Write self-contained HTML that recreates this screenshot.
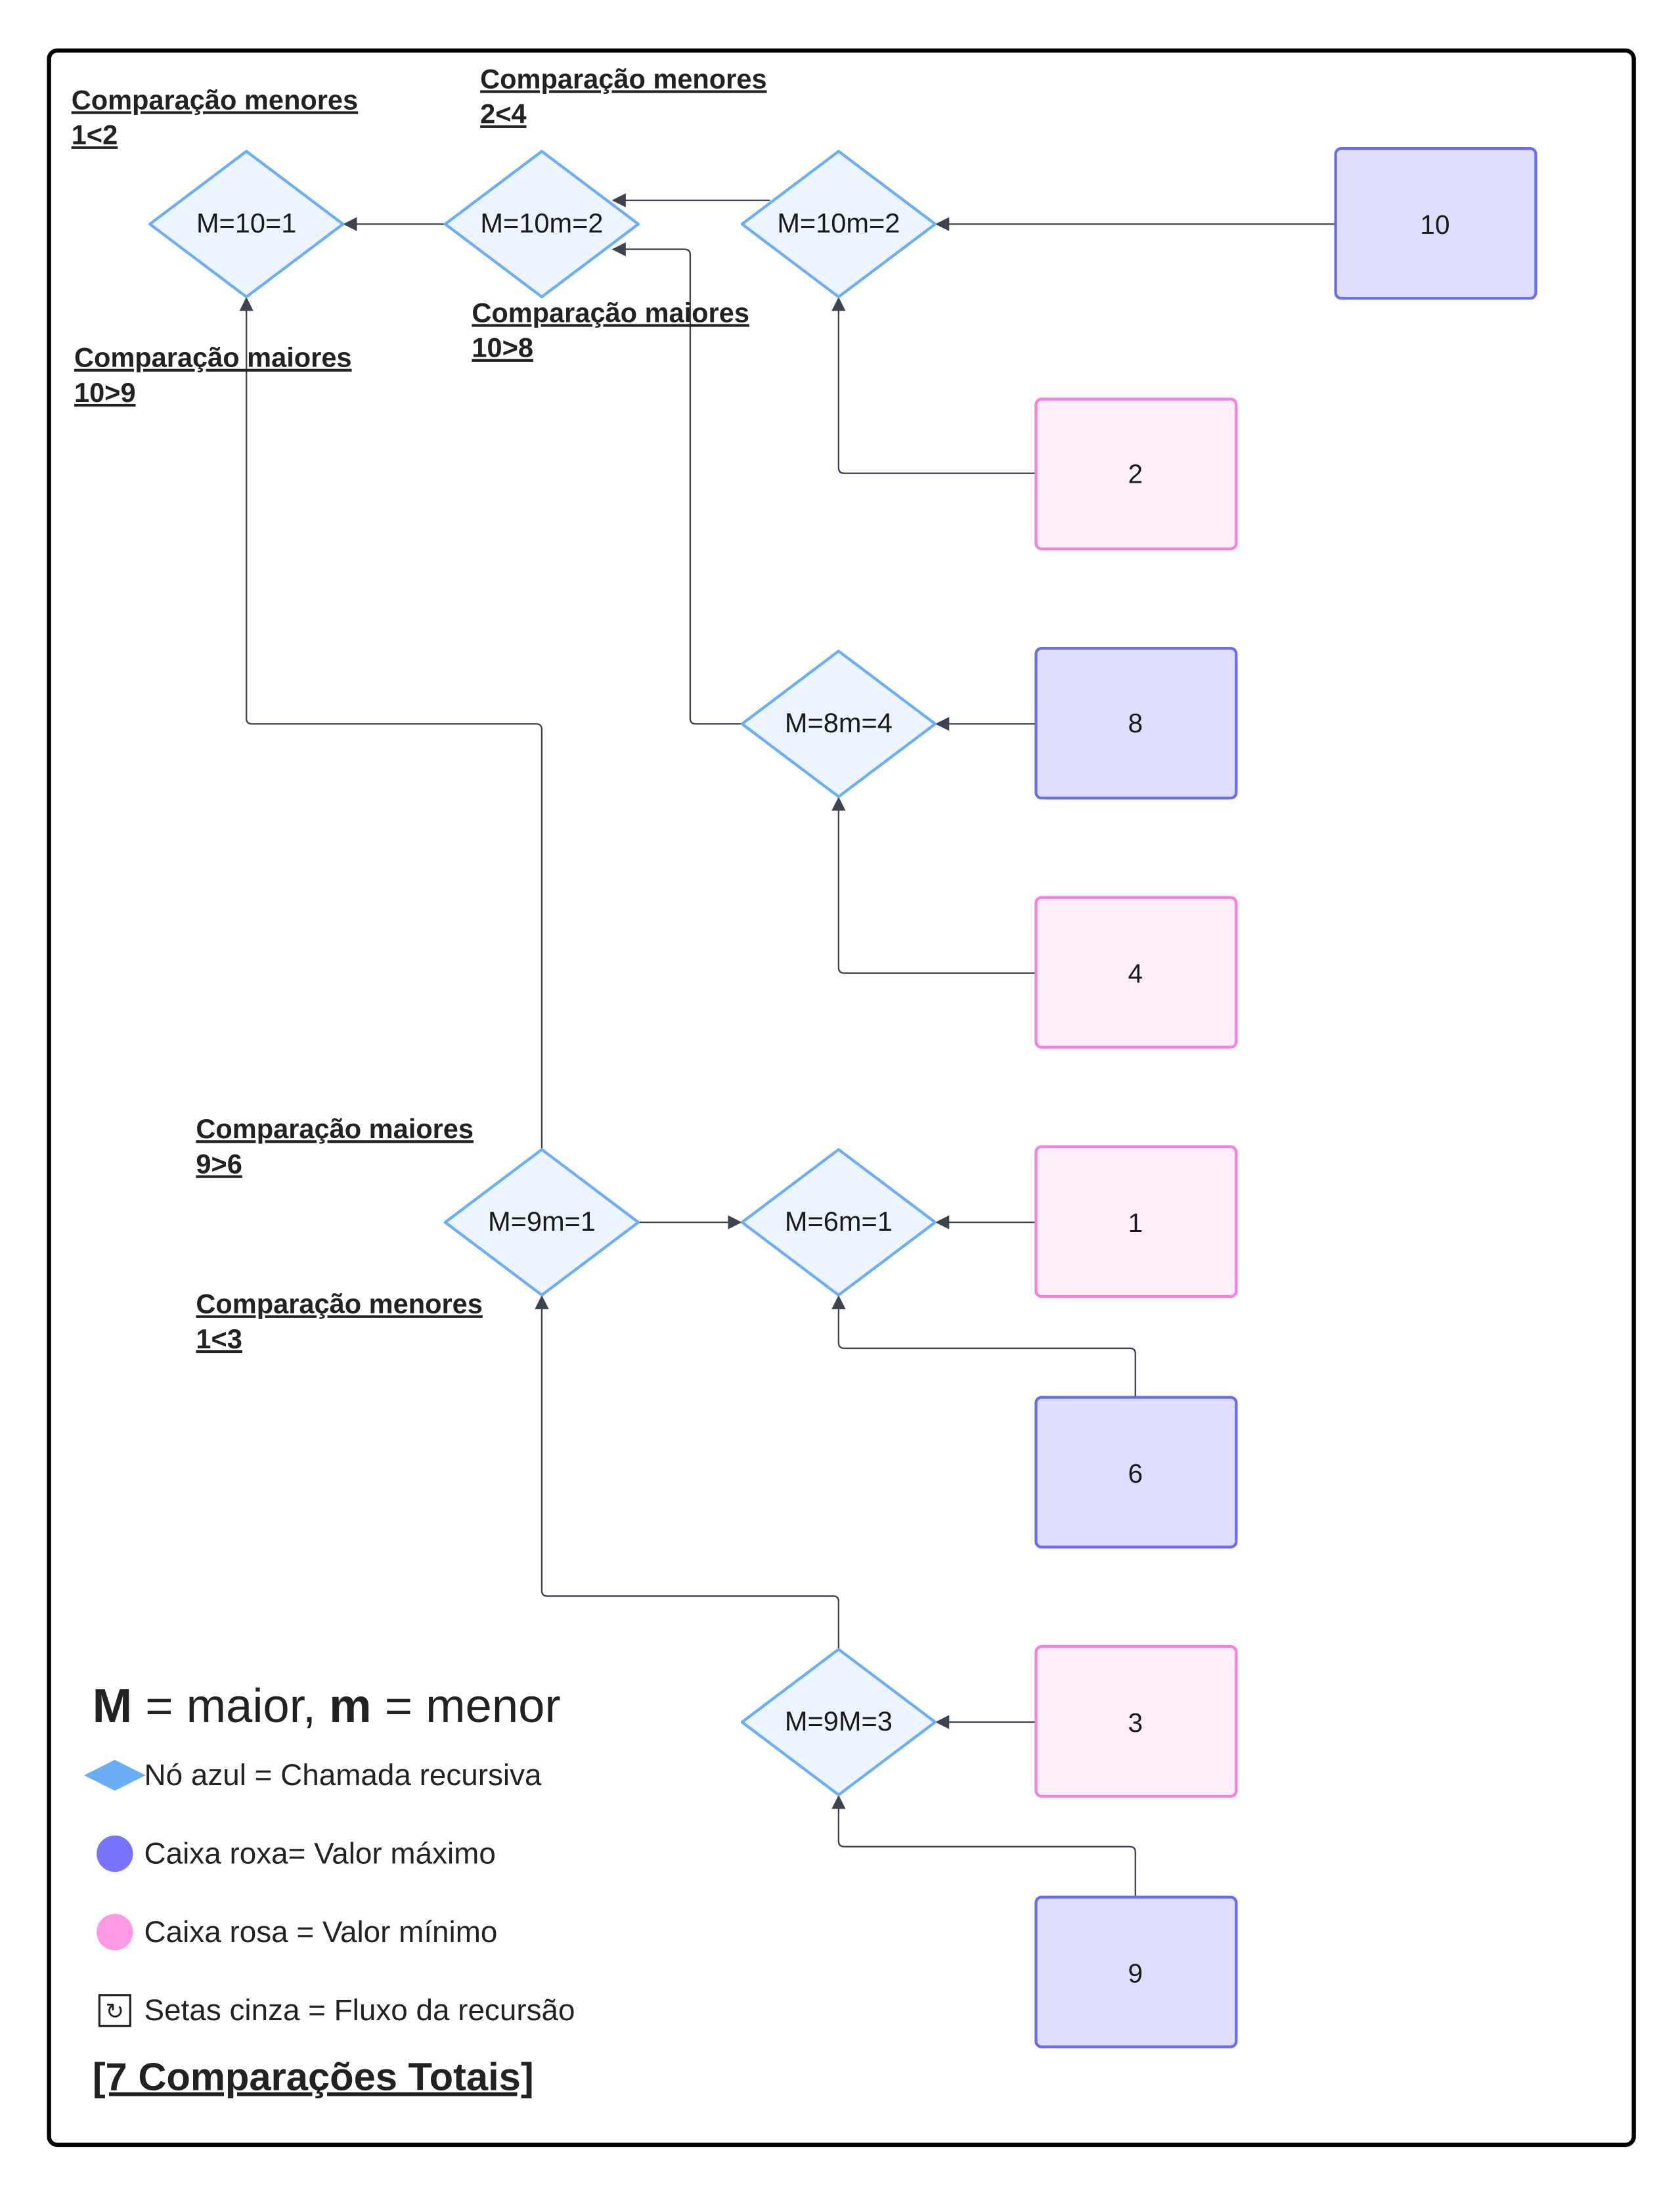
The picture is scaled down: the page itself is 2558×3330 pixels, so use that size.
<!DOCTYPE html>
<html><head><meta charset="utf-8"><style>html,body{margin:0;padding:0;background:#fff}svg{display:block}</style></head>
<body>
<svg width="2558" height="3330" viewBox="0 0 1200 1562" xmlns="http://www.w3.org/2000/svg" font-family="Liberation Sans, sans-serif">
<defs>
<marker id="a" markerWidth="10" markerHeight="10" refX="9" refY="5" orient="auto" markerUnits="userSpaceOnUse"><path d="M0,0 L10,5 L0,10 Z" fill="#3d4450"/></marker>
</defs>
<rect x="35" y="36" width="1132" height="1496" rx="6" fill="#fff" stroke="#000" stroke-width="3"/>
<g fill="none" stroke="#3d4450" stroke-width="1.1" marker-end="url(#a)">
<path d="M318,160 H246"/>
<path d="M550,143 H438"/>
<path d="M954,160 H669"/>
<path d="M740,338 H603 Q599,338 599,334 V213"/>
<path d="M530,517 H497 Q493,517 493,513 V182 Q493,178 489,178 H438"/>
<path d="M740,517 H669"/>
<path d="M740,695 H603 Q599,695 599,691 V570"/>
<path d="M387,821 V521 Q387,517 383,517 H180 Q176,517 176,513 V213"/>
<path d="M456,873 H529"/>
<path d="M740,873 H669"/>
<path d="M811,998 V967 Q811,963 807,963 H603 Q599,963 599,959 V926"/>
<path d="M599,1178 V1144 Q599,1140 595,1140 H391 Q387,1140 387,1136 V926"/>
<path d="M740,1230 H669"/>
<path d="M811,1355 V1323 Q811,1319 807,1319 H603 Q599,1319 599,1315 V1283"/>
</g>
<g fill="#ebf4ff" stroke="#6aaef7" stroke-width="2" stroke-linejoin="round">
<path d="M176,108 L245,160 L176,212 L107,160 Z"/>
<path d="M387,108 L456,160 L387,212 L318,160 Z"/>
<path d="M599,108 L668,160 L599,212 L530,160 Z"/>
<path d="M599,465 L668,517 L599,569 L530,517 Z"/>
<path d="M387,821 L456,873 L387,925 L318,873 Z"/>
<path d="M599,821 L668,873 L599,925 L530,873 Z"/>
<path d="M599,1178 L668,1230 L599,1282 L530,1230 Z"/>
</g>
<g font-size="19.5" fill="#1a1a1a" text-anchor="middle">
<text x="176" y="166">M=10=1</text>
<text x="387" y="166">M=10m=2</text>
<text x="599" y="166">M=10m=2</text>
<text x="599" y="523">M=8m=4</text>
<text x="387" y="879">M=9m=1</text>
<text x="599" y="879">M=6m=1</text>
<text x="599" y="1236">M=9M=3</text>
</g>
<g stroke-width="2">
<rect x="954" y="106" width="143" height="107" rx="4" fill="#dedefc" stroke="#6b6bf0"/>
<rect x="740" y="285" width="143" height="107" rx="4" fill="#fdeefa" stroke="#f77fdd"/>
<rect x="740" y="463" width="143" height="107" rx="4" fill="#dedefc" stroke="#6b6bf0"/>
<rect x="740" y="641" width="143" height="107" rx="4" fill="#fdeefa" stroke="#f77fdd"/>
<rect x="740" y="819" width="143" height="107" rx="4" fill="#fdeefa" stroke="#f77fdd"/>
<rect x="740" y="998" width="143" height="107" rx="4" fill="#dedefc" stroke="#6b6bf0"/>
<rect x="740" y="1176" width="143" height="107" rx="4" fill="#fdeefa" stroke="#f77fdd"/>
<rect x="740" y="1355" width="143" height="107" rx="4" fill="#dedefc" stroke="#6b6bf0"/>
</g>
<g font-size="19" fill="#1a1a1a" text-anchor="middle">
<text x="1025" y="167">10</text>
<text x="811" y="345">2</text>
<text x="811" y="523">8</text>
<text x="811" y="702">4</text>
<text x="811" y="880">1</text>
<text x="811" y="1059">6</text>
<text x="811" y="1237">3</text>
<text x="811" y="1416">9</text>
</g>
<g font-size="19.5" font-weight="bold" fill="#222" text-decoration="underline">
<text x="51" y="78">Comparação menores</text><text x="51" y="103">1&lt;2</text>
<text x="343" y="63">Comparação menores</text><text x="343" y="88">2&lt;4</text>
<text x="337" y="230">Comparação maiores</text><text x="337" y="255">10&gt;8</text>
<text x="53" y="262">Comparação maiores</text><text x="53" y="287">10&gt;9</text>
<text x="140" y="813">Comparação maiores</text><text x="140" y="838">9&gt;6</text>
<text x="140" y="938">Comparação menores</text><text x="140" y="963">1&lt;3</text>
</g>
<text x="66" y="1230" font-size="34" fill="#222"><tspan font-weight="bold">M</tspan> = maior, <tspan font-weight="bold">m</tspan> = menor</text>
<path d="M82,1257 L104,1268 L82,1279 L60,1268 Z" fill="#6aaef7"/>
<circle cx="82" cy="1324" r="13" fill="#7a73fd"/>
<circle cx="82" cy="1380" r="13" fill="#fd9ae3"/>
<rect x="71" y="1425" width="22" height="22" fill="none" stroke="#222" stroke-width="1.5"/>
<text x="82" y="1442" font-size="16" text-anchor="middle" fill="#222">↻</text>
<g font-size="21.5" fill="#222">
<text x="103" y="1275">Nó azul = Chamada recursiva</text>
<text x="103" y="1331">Caixa roxa= Valor máximo</text>
<text x="103" y="1387">Caixa rosa = Valor mínimo</text>
<text x="103" y="1443">Setas cinza = Fluxo da recursão</text>
</g>
<text x="66" y="1493" font-size="28" font-weight="bold" fill="#222" text-decoration="underline">[7 Comparações Totais]</text>
</svg>
</body></html>
